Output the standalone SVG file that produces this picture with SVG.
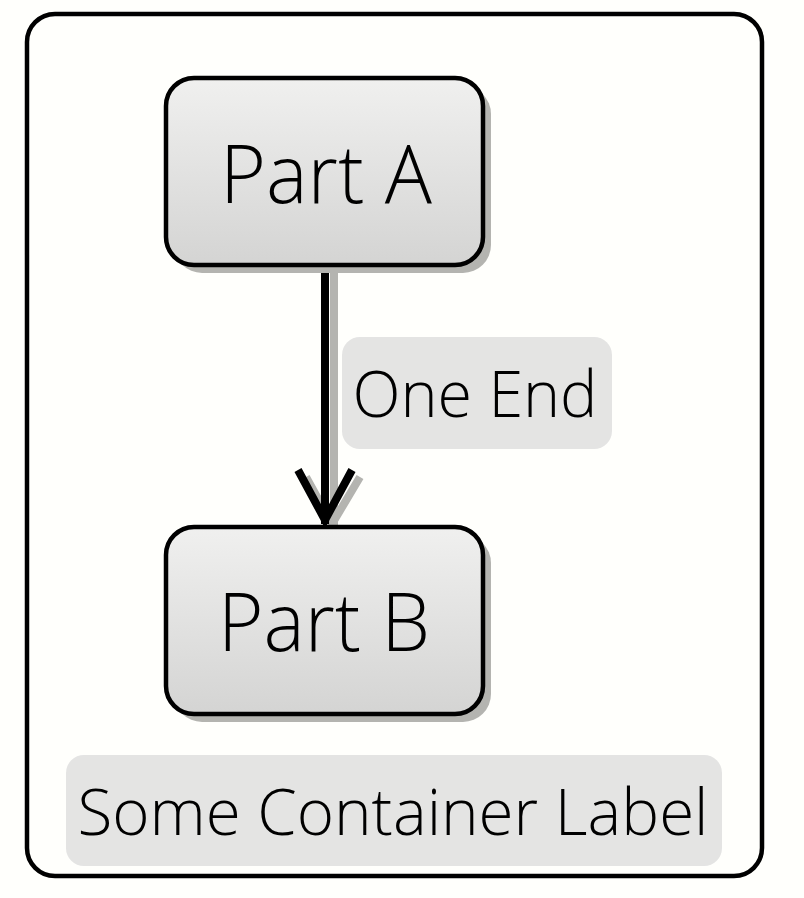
<svg xmlns="http://www.w3.org/2000/svg" width="804" height="898" viewBox="0 0 804 898">
<defs>
<linearGradient id="nodeFill" x1="0" y1="0" x2="0" y2="1">
<stop offset="0" stop-color="#f0f0ef"/>
<stop offset="1" stop-color="#d4d4d3"/>
</linearGradient>
<style>
.txt{font-family:"Open Sans Light","Open Sans","Noto Sans",sans-serif;font-weight:300;fill:#000;text-anchor:middle}
.node{fill:url(#nodeFill);stroke:#000;stroke-width:4.5}
.shadow{fill:#b4b4b0}
.lbl{fill:#e4e4e3}
</style>
</defs>
<rect width="804" height="898" fill="#fffffc"/>
<g id="container">
<rect x="27" y="14" width="735" height="862" rx="28" fill="#fffffc" stroke="#000" stroke-width="4.5"/>
<rect class="lbl" x="66" y="755" width="656" height="111" rx="18"/>
<text class="txt" x="393" y="835" font-size="64" textLength="631" lengthAdjust="spacingAndGlyphs">Some Container Label</text>
</g>
<g id="connectors">
<g stroke="#b4b4b0" stroke-width="8" fill="none" stroke-linecap="butt">
<line x1="334" y1="266" x2="334" y2="526"/>
<polyline points="306,477 332,524 360,477"/>
</g>
<g stroke="#000" stroke-width="8" fill="none">
<line x1="325" y1="266" x2="325" y2="524"/>
<polyline points="298,470 325,520 352,470" stroke-linejoin="miter"/>
</g>
<g id="edge-label">
<rect class="lbl" x="342" y="337" width="270" height="112" rx="18"/>
<text class="txt" x="475" y="417" font-size="64" textLength="245" lengthAdjust="spacingAndGlyphs">One End</text>
</g>
</g>
<g id="partA">
<rect class="shadow" x="174" y="86" width="317" height="187" rx="28"/>
<rect class="node" x="166" y="78" width="317" height="187" rx="28"/>
<text class="txt" x="326" y="203" font-size="81" textLength="212" lengthAdjust="spacingAndGlyphs">Part A</text>
</g>
<g id="partB">
<rect class="shadow" x="174" y="535" width="317" height="187" rx="28"/>
<rect class="node" x="166" y="527" width="317" height="187" rx="28"/>
<text class="txt" x="324" y="651" font-size="81" textLength="212" lengthAdjust="spacingAndGlyphs">Part B</text>
</g>
</svg>
